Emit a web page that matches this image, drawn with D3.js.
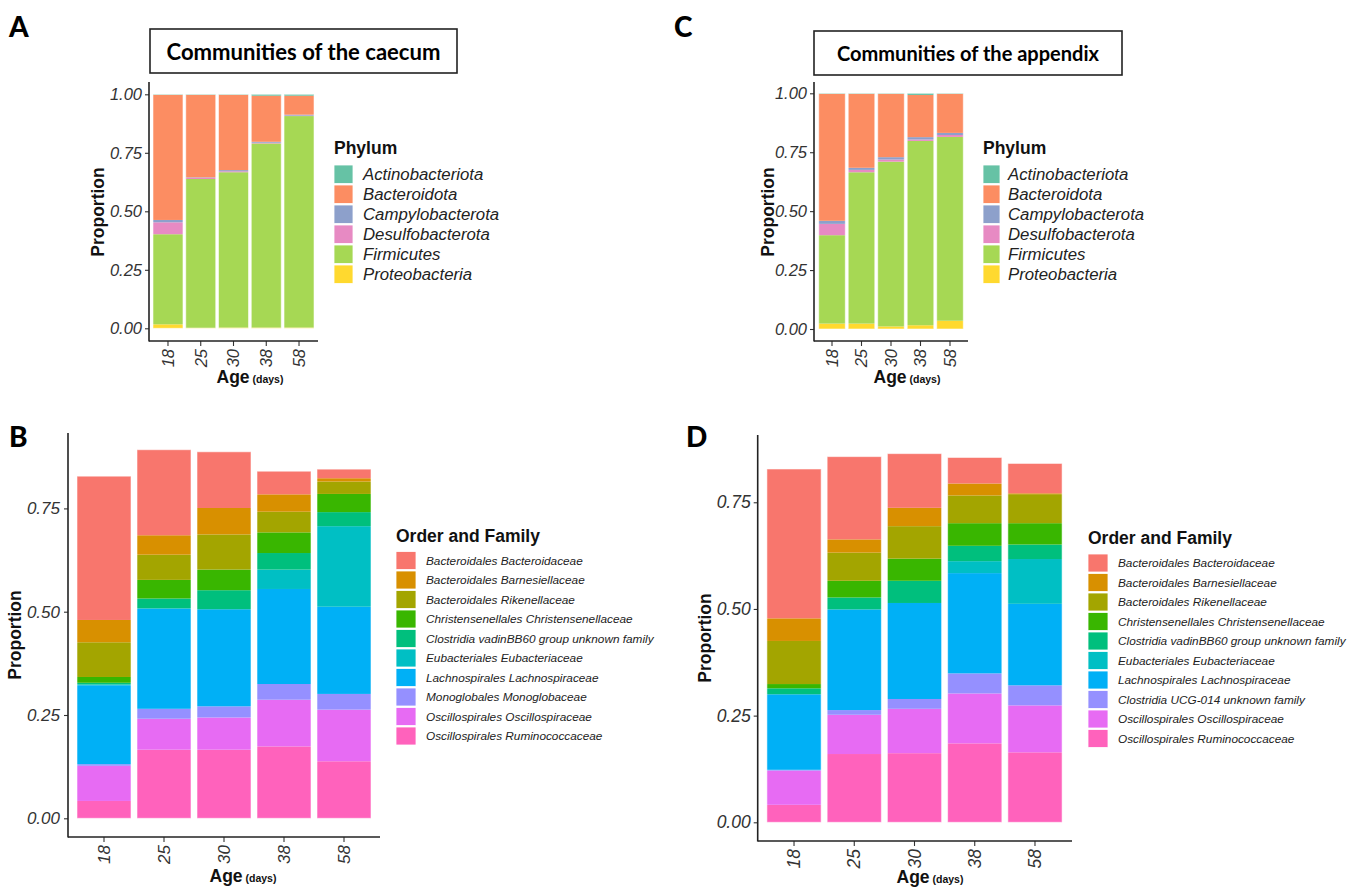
<!DOCTYPE html>
<html><head><meta charset="utf-8">
<script src="https://cdn.jsdelivr.net/npm/d3@7"></script>
<style>body{margin:0;background:#fff}svg{display:block}</style>
</head><body>
<svg id="chart" width="1361" height="889"></svg>
<script>
// ---------- categories ----------
const ages = ["18", "25", "30", "38", "58"];
const phyla = ["Actinobacteriota", "Bacteroidota", "Campylobacterota", "Desulfobacterota", "Firmicutes", "Proteobacteria"];
const phylumColors = ["#66C2A5", "#FC8D62", "#8DA0CB", "#E78AC3", "#A6D854", "#FFD92F"];
const familiesCaecum = ["Bacteroidales Bacteroidaceae", "Bacteroidales Barnesiellaceae", "Bacteroidales Rikenellaceae",
  "Christensenellales Christensenellaceae", "Clostridia vadinBB60 group unknown family", "Eubacteriales Eubacteriaceae",
  "Lachnospirales Lachnospiraceae", "Monoglobales Monoglobaceae", "Oscillospirales Oscillospiraceae", "Oscillospirales Ruminococcaceae"];
const familiesAppendix = ["Bacteroidales Bacteroidaceae", "Bacteroidales Barnesiellaceae", "Bacteroidales Rikenellaceae",
  "Christensenellales Christensenellaceae", "Clostridia vadinBB60 group unknown family", "Eubacteriales Eubacteriaceae",
  "Lachnospirales Lachnospiraceae", "Clostridia UCG-014 unknown family", "Oscillospirales Oscillospiraceae", "Oscillospirales Ruminococcaceae"];
const familyColors = ["#F8766D", "#D89000", "#A3A500", "#39B600", "#00BF7D", "#00BFC4", "#00B0F6", "#9590FF", "#E76BF3", "#FF62BC"];
const yTicksPhylum = [0, 0.25, 0.5, 0.75, 1];
const yTicksFamily = [0, 0.25, 0.5, 0.75];

// ---------- A: caecum phyla (per age 18,25,30,38,58) ----------
const caecumActinobacteriota = [0.002, 0.002, 0.002, 0.006, 0.006];
const caecumBacteroidota     = [0.535, 0.353, 0.322, 0.197, 0.081];
const caecumCampylobacterota = [0.010, 0.002, 0.005, 0.004, 0.004];
const caecumDesulfobacterota = [0.051, 0.005, 0.004, 0.003, 0.002];
const caecumFirmicutes       = [0.385, 0.636, 0.664, 0.787, 0.904];
const caecumProteobacteria   = [0.017, 0.002, 0.003, 0.003, 0.003];

// ---------- C: appendix phyla ----------
const appendixActinobacteriota = [0.002, 0.002, 0.002, 0.007, 0.002];
const appendixBacteroidota     = [0.539, 0.314, 0.269, 0.179, 0.166];
const appendixCampylobacterota = [0.013, 0.009, 0.010, 0.010, 0.009];
const appendixDesulfobacterota = [0.048, 0.010, 0.009, 0.006, 0.008];
const appendixFirmicutes       = [0.375, 0.642, 0.699, 0.782, 0.780];
const appendixProteobacteria   = [0.023, 0.023, 0.011, 0.016, 0.035];

// ---------- B: caecum families ----------
const caecumBacteroidaceae      = [0.348, 0.207, 0.136, 0.056, 0.022];
const caecumBarnesiellaceae     = [0.054, 0.047, 0.064, 0.042, 0.008];
const caecumRikenellaceae       = [0.084, 0.061, 0.085, 0.050, 0.030];
const caecumChristensenellaceae = [0.014, 0.045, 0.050, 0.050, 0.044];
const caecumVadinBB60           = [0.004, 0.024, 0.046, 0.040, 0.034];
const caecumEubacteriaceae      = [0.002, 0.000, 0.000, 0.047, 0.195];
const caecumLachnospiraceae     = [0.191, 0.243, 0.235, 0.230, 0.211];
const caecumMonoglobaceae       = [0.004, 0.024, 0.027, 0.038, 0.038];
const caecumOscillospiraceae    = [0.085, 0.075, 0.078, 0.113, 0.125];
const caecumRuminococcaceae     = [0.042, 0.166, 0.166, 0.174, 0.138];

// ---------- D: appendix families ----------
const appendixBacteroidaceae      = [0.350, 0.194, 0.127, 0.061, 0.070];
const appendixBarnesiellaceae     = [0.053, 0.031, 0.043, 0.028, 0.002];
const appendixRikenellaceae       = [0.101, 0.066, 0.076, 0.065, 0.068];
const appendixChristensenellaceae = [0.010, 0.039, 0.052, 0.053, 0.050];
const appendixVadinBB60           = [0.014, 0.028, 0.052, 0.036, 0.034];
const appendixEubacteriaceae      = [0.000, 0.000, 0.000, 0.028, 0.105];
const appendixLachnospiraceae     = [0.177, 0.236, 0.225, 0.235, 0.191];
const appendixUCG014              = [0.002, 0.011, 0.023, 0.047, 0.047];
const appendixOscillospiraceae    = [0.080, 0.092, 0.104, 0.117, 0.110];
const appendixRuminococcaceae     = [0.041, 0.160, 0.162, 0.185, 0.164];

const svg = d3.select("#chart");
const SANS = "'Liberation Sans', Arial, sans-serif";
const TITLEFONT = "Lato, 'Open Sans', sans-serif";

function fitWidth(sel, w) {
  const L = sel.node().getComputedTextLength();
  const fs = parseFloat(sel.attr("font-size"));
  sel.attr("font-size", fs * w / L);
}

function drawPanel(cfg) {
  const g = svg.append("g");
  const x = d3.scaleBand().domain(ages).range([cfg.bandStart, cfg.bandEnd])
    .paddingInner(cfg.pad).paddingOuter(cfg.pad / 2);
  const y = d3.scaleLinear().domain([0, 1]).range([cfg.zeroY, cfg.oneY]);
  const rows = ages.map((a, i) => {
    const r = { age: a };
    cfg.keys.forEach((k, j) => r[k] = cfg.values[j][i]);
    return r;
  });
  const stacked = d3.stack().keys(cfg.keys.slice().reverse())(rows);
  const color = d3.scaleOrdinal().domain(cfg.keys).range(cfg.colors);

  g.selectAll("g.layer").data(stacked).join("g")
    .attr("fill", d => color(d.key))
    .selectAll("rect").data(d => d).join("rect")
    .attr("x", d => x(d.data.age))
    .attr("width", x.bandwidth())
    .attr("y", d => y(d[1]))
    .attr("height", d => Math.max(0, y(d[0]) - y(d[1])));

  // outline of each bar (light edge)
  g.selectAll("rect.outline").data(rows).join("rect")
    .attr("class", "outline")
    .attr("x", d => x(d.age))
    .attr("width", x.bandwidth())
    .attr("y", d => y(d3.sum(cfg.keys, k => d[k])))
    .attr("height", d => y(0) - y(d3.sum(cfg.keys, k => d[k])))
    .attr("fill", "none").attr("stroke", "#fff").attr("stroke-opacity", 0.55).attr("stroke-width", 1);

  // y axis
  const ya = g.append("g").attr("transform", `translate(${cfg.axisX},0)`)
    .call(d3.axisLeft(y).tickValues(cfg.yticks).tickFormat(d3.format(".2f")).tickSize(4).tickPadding(cfg.ytickPad));
  ya.select(".domain").remove();
  ya.selectAll("line").attr("stroke", "#333").attr("stroke-width", 1.1);
  ya.selectAll("text").attr("font-family", SANS).attr("font-style", "italic")
    .attr("font-size", cfg.tickFont).attr("fill", "#333");

  // x axis
  const xa = g.append("g").attr("transform", `translate(0,${cfg.axisY})`)
    .call(d3.axisBottom(x).tickSize(5).tickPadding(3));
  xa.select(".domain").remove();
  xa.selectAll("line").attr("stroke", "#333").attr("stroke-width", 1.1);
  xa.selectAll("text").attr("font-family", SANS).attr("font-style", "italic")
    .attr("font-size", cfg.tickFont).attr("fill", "#333")
    .attr("transform", "rotate(-90)").attr("y", 0).attr("x", -8).attr("dy", "0.35em")
    .attr("text-anchor", "end");

  // axis lines
  g.append("line").attr("x1", cfg.axisX).attr("x2", cfg.axisX).attr("y1", cfg.axisTop).attr("y2", cfg.axisY + 0.5)
    .attr("stroke", "#222").attr("stroke-width", 1.6);
  g.append("line").attr("x1", cfg.axisX).attr("x2", cfg.axisRight).attr("y1", cfg.axisY).attr("y2", cfg.axisY)
    .attr("stroke", "#222").attr("stroke-width", 1.6);

  // axis titles
  g.append("text").attr("transform", `translate(${cfg.yTitleX},${cfg.yTitleY}) rotate(-90)`)
    .attr("text-anchor", "middle").attr("font-family", SANS).attr("font-weight", "bold")
    .attr("font-size", 17.5).attr("fill", "#111").text("Proportion");
  const at = g.append("text").attr("x", cfg.xTitleX).attr("y", cfg.xTitleY).attr("text-anchor", "middle")
    .attr("font-family", SANS).attr("font-weight", "bold").attr("fill", "#111");
  at.append("tspan").attr("font-size", 17.5).text("Age");
  at.append("tspan").attr("font-size", 10.5).text(" (days)");

  // legend
  const lg = g.append("g");
  lg.append("text").attr("x", cfg.legX).attr("y", cfg.legTitleY).attr("font-family", SANS)
    .attr("font-weight", "bold").attr("font-size", 17.5).attr("fill", "#111").text(cfg.legTitle);
  const items = lg.selectAll("g.item").data(cfg.keys).join("g")
    .attr("transform", (d, i) => `translate(${cfg.legX},${cfg.legTop + i * cfg.legStep})`);
  items.append("rect").attr("width", cfg.keyW).attr("height", cfg.legStep - 1.5)
    .attr("fill", d => color(d)).attr("stroke", "#fff").attr("stroke-width", 0.8);
  items.append("text").attr("x", cfg.labelX - cfg.legX).attr("y", (cfg.legStep - 1.5) / 2)
    .attr("dy", "0.36em").attr("font-family", SANS).attr("font-style", "italic")
    .attr("font-size", cfg.legFont).attr("fill", "#222").text(d => d);
}

// panel letters
[["A", 9, 37], ["C", 674, 37], ["B", 9, 447], ["D", 686, 447]].forEach(([t, px, py]) => {
  svg.append("text").attr("x", px).attr("y", py).attr("font-family", TITLEFONT)
    .attr("font-weight", 900).attr("font-size", 28).attr("fill", "#000").text(t);
});

// title boxes
function titleBox(bx, by, bw, bh, label, textW, baseY) {
  svg.append("rect").attr("x", bx).attr("y", by).attr("width", bw).attr("height", bh)
    .attr("fill", "#fff").attr("stroke", "#222").attr("stroke-width", 1.6);
  const t = svg.append("text").attr("x", bx + bw / 2).attr("y", baseY).attr("text-anchor", "middle")
    .attr("font-family", TITLEFONT).attr("font-weight", "bold").attr("font-size", 22).attr("fill", "#000").text(label);
  fitWidth(t, textW);
}
titleBox(150, 29, 307, 44, "Communities of the caecum", 274, 60);
titleBox(814, 31, 308, 44, "Communities of the appendix", 262, 61);

drawPanel({
  keys: phyla, colors: phylumColors,
  values: [caecumActinobacteriota, caecumBacteroidota, caecumCampylobacterota, caecumDesulfobacterota, caecumFirmicutes, caecumProteobacteria],
  bandStart: 151.6, bandEnd: 315.4, pad: 0.085, zeroY: 328.3, oneY: 94.3,
  axisX: 149, axisTop: 82, axisY: 341, axisRight: 318, yticks: yTicksPhylum, ytickPad: 3, tickFont: 16.5,
  yTitleX: 104, yTitleY: 212, xTitleX: 250, xTitleY: 383,
  legX: 334, legTitleY: 154, legTop: 165, legStep: 20, keyW: 19, labelX: 363, legFont: 16.8, legTitle: "Phylum"
});
drawPanel({
  keys: phyla, colors: phylumColors,
  values: [appendixActinobacteriota, appendixBacteroidota, appendixCampylobacterota, appendixDesulfobacterota, appendixFirmicutes, appendixProteobacteria],
  bandStart: 817.25, bandEnd: 964.75, pad: 0.1, zeroY: 329, oneY: 93.3,
  axisX: 814, axisTop: 82, axisY: 341, axisRight: 968, yticks: yTicksPhylum, ytickPad: 3, tickFont: 16.5,
  yTitleX: 774, yTitleY: 212, xTitleX: 907, xTitleY: 383,
  legX: 983, legTitleY: 154, legTop: 165, legStep: 20, keyW: 17, labelX: 1008, legFont: 16.8, legTitle: "Phylum"
});
drawPanel({
  keys: familiesCaecum, colors: familyColors,
  values: [caecumBacteroidaceae, caecumBarnesiellaceae, caecumRikenellaceae, caecumChristensenellaceae, caecumVadinBB60,
    caecumEubacteriaceae, caecumLachnospiraceae, caecumMonoglobaceae, caecumOscillospiraceae, caecumRuminococcaceae],
  bandStart: 74, bandEnd: 374, pad: 0.1, zeroY: 818.3, oneY: 405.1,
  axisX: 68, axisTop: 433, axisY: 837, axisRight: 380, yticks: yTicksFamily, ytickPad: 4, tickFont: 17,
  yTitleX: 21, yTitleY: 635, xTitleX: 243, xTitleY: 882,
  legX: 396, legTitleY: 542, legTop: 551.5, legStep: 19.5, keyW: 20, labelX: 426, legFont: 11.8, legTitle: "Order and Family"
});
drawPanel({
  keys: familiesAppendix, colors: familyColors,
  values: [appendixBacteroidaceae, appendixBarnesiellaceae, appendixRikenellaceae, appendixChristensenellaceae, appendixVadinBB60,
    appendixEubacteriaceae, appendixLachnospiraceae, appendixUCG014, appendixOscillospiraceae, appendixRuminococcaceae],
  bandStart: 763.9, bandEnd: 1065.1, pad: 0.1, zeroY: 822.3, oneY: 395.6,
  axisX: 757.7, axisTop: 435, axisY: 841, axisRight: 1072, yticks: yTicksFamily, ytickPad: 3, tickFont: 17.5,
  yTitleX: 711, yTitleY: 638, xTitleX: 930, xTitleY: 883,
  legX: 1088, legTitleY: 544, legTop: 554, legStep: 19.5, keyW: 20, labelX: 1118, legFont: 11.8, legTitle: "Order and Family"
});
</script>
</body></html>
